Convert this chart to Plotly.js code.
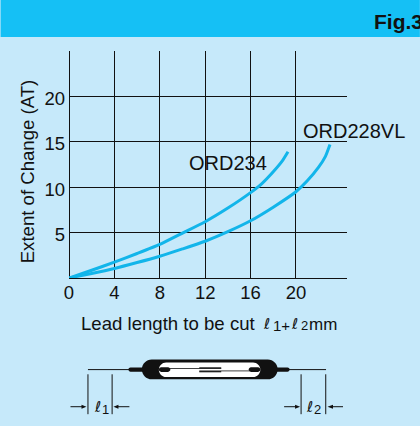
<!DOCTYPE html>
<html>
<head>
<meta charset="utf-8">
<script src="https://cdn.plot.ly/plotly-3.0.1.min.js"></script>
<style>html,body{margin:0;padding:0;background:#C6E9FA;overflow:hidden}</style>
</head>
<body>
<div id="chart" style="width:420px;height:426px"></div>
<script>
const ord234X = [0, 2, 4, 6, 8, 10, 12, 14, 16, 17, 18, 18.8, 19.3];
const ord234Y = [0, 0.85, 1.75, 2.7, 3.7, 4.95, 6.2, 7.7, 9.4, 10.4, 11.7, 12.9, 13.9];
const ord228X = [0, 2, 4, 6, 8, 10, 12, 14, 16, 18, 20, 21, 22, 22.6, 23];
const ord228Y = [0, 0.5, 1.05, 1.7, 2.4, 3.2, 4.05, 5.1, 6.3, 7.8, 9.5, 10.7, 12.2, 13.4, 14.7];
const xTicks = [0, 4, 8, 12, 16, 20];
const yTicks = [5, 10, 15, 20];
const curveNames = ['ORD234', 'ORD228VL'];

const W = 420, H = 426, BLUE = '#12B5EA';
const L = 68.5, T = 51, PW = 278.5, PH = 227.5;
const px = x => (x - L) / PW, py = y => (T + PH - y) / PH;
const P = (x, y) => px(x) + ' ' + py(y);
const sh = (type, x0, y0, x1, y1, color, lw, fill) => ({
  type, xref: 'paper', yref: 'paper', x0: px(x0), x1: px(x1), y0: py(y0), y1: py(y1),
  line: {color, width: lw}, fillcolor: fill, layer: 'above'
});
const line = (x0, y0, x1, y1, lw) => sh('line', x0, y0, x1, y1, '#111', lw || 1);
const path = (d, fill) => ({type: 'path', xref: 'paper', yref: 'paper', path: d, fillcolor: fill,
  line: {color: fill, width: 0}, layer: 'above'});
const stadium = (x0, x1, y0, y1, fill) => {
  const r = (y1 - y0) / 2, k = r * 0.55, m = (y0 + y1) / 2;
  return path('M ' + P(x0 + r, y0) + ' L ' + P(x1 - r, y0) +
    ' C ' + P(x1 - r + k, y0) + ' ' + P(x1, m - k) + ' ' + P(x1, m) +
    ' C ' + P(x1, m + k) + ' ' + P(x1 - r + k, y1) + ' ' + P(x1 - r, y1) +
    ' L ' + P(x0 + r, y1) +
    ' C ' + P(x0 + r - k, y1) + ' ' + P(x0, m + k) + ' ' + P(x0, m) +
    ' C ' + P(x0, m - k) + ' ' + P(x0 + r - k, y0) + ' ' + P(x0 + r, y0) + ' Z', fill);
};
const arrow = (xBase, xTip, y) => path('M ' + P(xBase, y - 2) + ' L ' + P(xTip, y) + ' L ' + P(xBase, y + 2) + ' Z', '#111');

const shapes = [
  sh('rect', 0, 0, 420, 37, '#15C0F5', 0, '#15C0F5'),
  line(87.5, 370.3, 130, 370.3, 1),
  line(286, 370.3, 326, 370.3, 1),
  stadium(128, 145, 368.2, 372.4, '#111'),
  stadium(274, 289.5, 368.2, 372.4, '#111'),
  stadium(141.5, 277.5, 360.3, 380, '#111'),
  stadium(158.5, 260.2, 363.2, 377.8, '#fff'),
  stadium(158.5, 170, 368, 372.6, '#111'),
  stadium(248.5, 260.2, 368, 372.6, '#111'),
  line(168, 369.2, 221, 369.2, 0.8),
  line(199, 371.6, 250, 371.6, 0.8),
  line(199, 368.6, 221, 368.6, 1.2),
  line(199, 372.4, 221, 372.4, 1.2),
  line(87.5, 375, 87.5, 415, 1),
  line(111.7, 375, 111.7, 415, 1),
  line(301, 375, 301, 415, 1),
  line(325.7, 375, 325.7, 415, 1),
  line(70, 407.5, 82, 407.5, 1), arrow(81, 86, 407.5),
  line(117, 407.5, 129, 407.5, 1), arrow(118, 113, 407.5),
  line(284, 407.5, 296, 407.5, 1), arrow(295, 300, 407.5),
  line(332, 407.5, 343, 407.5, 1), arrow(333, 327.5, 407.5)
];

const font = {family: '"Liberation Sans", Arial, sans-serif', color: '#111'};
const note = (text, x, y, size, anchor, extra) => Object.assign({
  text, xref: 'paper', yref: 'paper', x: px(x), y: py(y), showarrow: false,
  xanchor: anchor || 'left', yanchor: 'middle',
  font: Object.assign({}, font, {size}), borderpad: 0, borderwidth: 0
}, extra || {});
const ell = (x, y, size) => note('<i>ℓ</i>', x, y, size, 'left', {font: {family: '"DejaVu Sans", sans-serif', size, color: '#111'}});

const annotations = [
  note('<b>Fig.3</b>', 374, 21, 21),
  note(curveNames[0], 189, 163, 20),
  note(curveNames[1], 303, 131, 20),
  note('Extent of Change (AT)', 26.5, 171.5, 18.6, 'center', {textangle: -90}),
  note('Lead length to be cut', 81, 324, 18.6),
  ell(263, 325, 15),
  note('1+', 273, 326, 15),
  ell(291, 325, 15),
  note('2', 301, 326, 13),
  note('mm', 309, 325, 17),
  ell(94, 408, 15),
  note('1', 102, 410, 13),
  ell(306, 408, 15),
  note('2', 314, 410, 13)
];

const traces = [
  {x: ord234X, y: ord234Y, name: curveNames[0]},
  {x: ord228X, y: ord228Y, name: curveNames[1]}
].map(t => Object.assign(t, {mode: 'lines', line: {color: BLUE, width: 3, shape: 'spline', smoothing: 0.6},
  hoverinfo: 'skip', showlegend: false}));

const axisCommon = {showgrid: true, gridcolor: '#111', gridwidth: 1, zeroline: true, zerolinecolor: '#111',
  zerolinewidth: 1, showline: false, ticks: '', tickfont: Object.assign({}, font, {size: 18.5}), fixedrange: true};

Plotly.newPlot('chart', traces, {
  width: W, height: H,
  margin: {l: L, r: W - L - PW, t: T, b: H - T - PH, pad: 0},
  paper_bgcolor: '#C6E9FA', plot_bgcolor: '#C6E9FA',
  showlegend: false,
  font,
  xaxis: Object.assign({}, axisCommon, {range: [0, 24.5], tickmode: 'array', tickvals: xTicks, ticktext: xTicks.map(String), ticklabelstandoff: 1}),
  yaxis: Object.assign({}, axisCommon, {range: [0, 25], tickmode: 'array', tickvals: yTicks, ticktext: yTicks.map(String), ticklabelstandoff: 3, ticklabelshift: 2}),
  shapes, annotations
}, {displayModeBar: false, staticPlot: true});
</script>
</body>
</html>
